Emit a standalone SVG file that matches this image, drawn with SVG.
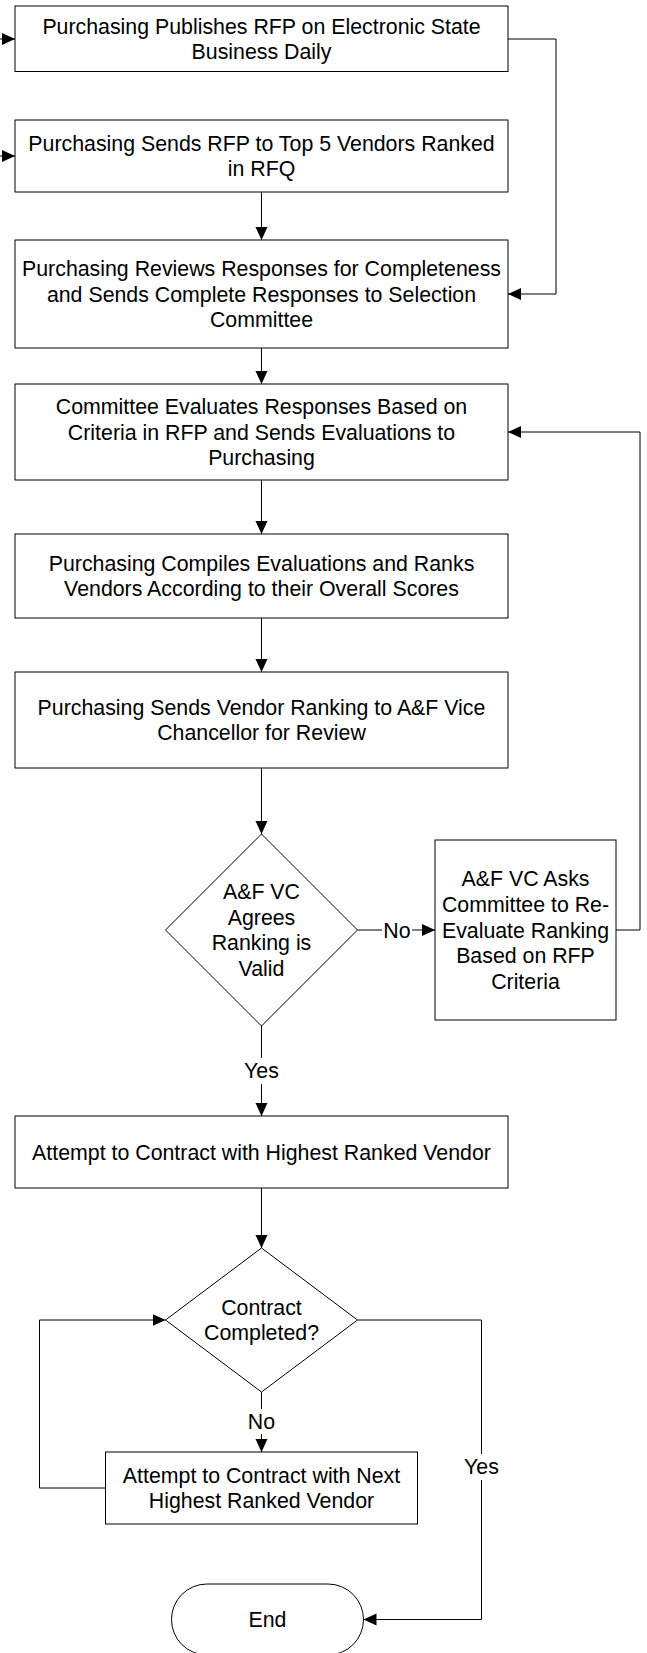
<svg xmlns="http://www.w3.org/2000/svg" width="647" height="1653" viewBox="0 0 647 1653">
<style>
.n{fill:#fff;stroke:#000;stroke-width:1}
.t{font-family:"Liberation Sans",Arial,sans-serif;font-size:21.33px;fill:#000;text-anchor:middle}
.c{fill:none;stroke:#000;stroke-width:1}
.lb{fill:#fff;stroke:none}
</style>
<defs>
<marker id="ah" markerUnits="userSpaceOnUse" markerWidth="14" markerHeight="13" refX="13" refY="6" orient="auto">
<path d="M0,0 L13,6 L0,12 z" fill="#000"/>
</marker>
</defs>
<rect width="647" height="1653" fill="#fff"/>
<g id="connectors">
<path class="c" d="M-20,39 H15" marker-end="url(#ah)"/>
<path class="c" d="M-20,156 H15" marker-end="url(#ah)"/>
<path class="c" d="M508,39 H556 V294 H508" marker-end="url(#ah)"/>
<path class="c" d="M261.5,192 V240" marker-end="url(#ah)"/>
<path class="c" d="M261.5,348 V384" marker-end="url(#ah)"/>
<path class="c" d="M261.5,480 V534" marker-end="url(#ah)"/>
<path class="c" d="M261.5,618 V672" marker-end="url(#ah)"/>
<path class="c" d="M261.5,768 V834" marker-end="url(#ah)"/>
<path class="c" d="M357.5,930 H435" marker-end="url(#ah)"/>
<path class="c" d="M616,930 H640 V432 H508" marker-end="url(#ah)"/>
<path class="c" d="M261.5,1026 V1116" marker-end="url(#ah)"/>
<path class="c" d="M261.5,1188 V1248" marker-end="url(#ah)"/>
<path class="c" d="M261.5,1392 V1452" marker-end="url(#ah)"/>
<path class="c" d="M105.5,1488 H39.5 V1320 H165.5" marker-end="url(#ah)"/>
<path class="c" d="M357.5,1320 H481.5 V1619.5 H363.5" marker-end="url(#ah)"/>
<rect class="lb" x="382" y="918" width="30" height="24"/>
<text class="t" x="397" y="937.5">No</text>
<rect class="lb" x="242" y="1058" width="39" height="26"/>
<text class="t" x="261.5" y="1078.2">Yes</text>
<rect class="lb" x="247" y="1409" width="29" height="25"/>
<text class="t" x="261.5" y="1429.2">No</text>
<rect class="lb" x="462" y="1454" width="39" height="26"/>
<text class="t" x="481.5" y="1474.2">Yes</text>
</g>
<g id="n1">
<rect class="n" x="15" y="6" width="493" height="65.5"/>
<text class="t" x="261.5" y="33.5">Purchasing Publishes RFP on Electronic State</text>
<text class="t" x="261.5" y="59">Business Daily</text>
</g>
<g id="n2">
<rect class="n" x="15" y="120" width="493" height="72"/>
<text class="t" x="261.5" y="150.7">Purchasing Sends RFP to Top 5 Vendors Ranked</text>
<text class="t" x="261.5" y="176.3">in RFQ</text>
</g>
<g id="n3">
<rect class="n" x="15" y="240" width="493" height="108"/>
<text class="t" x="261.5" y="276.1">Purchasing Reviews Responses for Completeness</text>
<text class="t" x="261.5" y="301.7">and Sends Complete Responses to Selection</text>
<text class="t" x="261.5" y="327.3">Committee</text>
</g>
<g id="n4">
<rect class="n" x="15" y="384" width="493" height="96"/>
<text class="t" x="261.5" y="414.1">Committee Evaluates Responses Based on</text>
<text class="t" x="261.5" y="439.7">Criteria in RFP and Sends Evaluations to</text>
<text class="t" x="261.5" y="465.3">Purchasing</text>
</g>
<g id="n5">
<rect class="n" x="15" y="534" width="493" height="84"/>
<text class="t" x="261.5" y="570.7">Purchasing Compiles Evaluations and Ranks</text>
<text class="t" x="261.5" y="596.3">Vendors According to their Overall Scores</text>
</g>
<g id="n6">
<rect class="n" x="15" y="672" width="493" height="96"/>
<text class="t" x="261.5" y="714.7">Purchasing Sends Vendor Ranking to A&amp;F Vice</text>
<text class="t" x="261.5" y="740.3">Chancellor for Review</text>
</g>
<g id="d1">
<path class="n" d="M261.5,834 L357.5,930 L261.5,1026 L165.5,930 Z"/>
<text class="t" x="261.5" y="899.1">A&amp;F VC</text>
<text class="t" x="261.5" y="924.7">Agrees</text>
<text class="t" x="261.5" y="950.3">Ranking is</text>
<text class="t" x="261.5" y="975.9">Valid</text>
</g>
<g id="n7">
<rect class="n" x="435" y="840" width="181" height="180"/>
<text class="t" x="525.5" y="886.3">A&amp;F VC Asks</text>
<text class="t" x="525.5" y="911.9">Committee to Re-</text>
<text class="t" x="525.5" y="937.5">Evaluate Ranking</text>
<text class="t" x="525.5" y="963.1">Based on RFP</text>
<text class="t" x="525.5" y="988.7">Criteria</text>
</g>
<g id="n8">
<rect class="n" x="15" y="1116" width="493" height="72"/>
<text class="t" x="261.5" y="1159.5">Attempt to Contract with Highest Ranked Vendor</text>
</g>
<g id="d2">
<path class="n" d="M261.5,1248 L357.5,1320 L261.5,1392 L165.5,1320 Z"/>
<text class="t" x="261.5" y="1314.7">Contract</text>
<text class="t" x="261.5" y="1340.3">Completed?</text>
</g>
<g id="n9">
<rect class="n" x="105.5" y="1452" width="312" height="72"/>
<text class="t" x="261.5" y="1482.7">Attempt to Contract with Next</text>
<text class="t" x="261.5" y="1508.3">Highest Ranked Vendor</text>
</g>
<g id="end">
<rect class="n" x="171.5" y="1584" width="192" height="71" rx="35.5" ry="35.5"/>
<text class="t" x="267.5" y="1627">End</text>
</g>
</svg>
